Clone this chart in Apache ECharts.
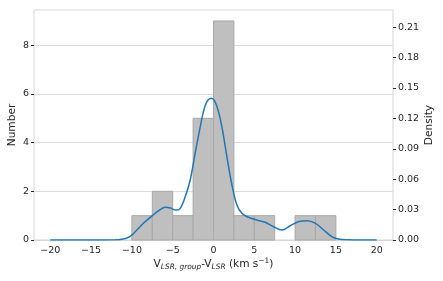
<!DOCTYPE html>
<html><head><meta charset="utf-8">
<script src="https://cdn.jsdelivr.net/npm/echarts@6/dist/echarts.min.js"></script>
<style>html,body{margin:0;padding:0;background:#fff}#c{width:443px;height:281px}</style>
</head><body><div id="c"></div>
<script>
// Histogram bins (edges) and counts
const binStarts = [-10, -7.5, -5, -2.5, 0, 2.5, 5, 7.5, 10, 12.5];
const binEnds   = [-7.5, -5, -2.5, 0, 2.5, 5, 7.5, 10, 12.5, 15];
const counts    = [1, 2, 1, 5, 9, 1, 1, 0, 1, 1];
// KDE curve (density axis)
const kdeX = [-20, -15, -12, -11.4, -10.8, -10.2, -9.4, -8.6, -7.5, -6.7, -5.9, -5.3, -4.6, -4.1, -3.5, -2.86, -2.25, -1.7, -1.23, -0.81, -0.28, 0.12, 0.61, 1.1, 1.64, 2.26, 2.87, 3.48, 4.1, 5.3, 6.34, 7.36, 8.39, 9.4, 10.4, 11.46, 12.5, 13.5, 14.5, 15.3, 16.5, 18, 20];
const kdeY = [0, 0, 0.0002, 0.0005, 0.0015, 0.0035, 0.0099, 0.0165, 0.024, 0.029, 0.0322, 0.0315, 0.0295, 0.031, 0.042, 0.059, 0.0856, 0.1086, 0.1267, 0.1365, 0.14, 0.1375, 0.1267, 0.1086, 0.0822, 0.0543, 0.0345, 0.0263, 0.023, 0.0197, 0.0175, 0.0131, 0.0099, 0.0141, 0.018, 0.019, 0.0165, 0.0099, 0.0033, 0.001, 0.0002, 0, 0];
// Tick labels
const xTicks = [-20, -15, -10, -5, 0, 5, 10, 15, 20];
const yLeftTicks = [0, 2, 4, 6, 8];
const yRightTicks = [0, 0.03, 0.06, 0.09, 0.12, 0.15, 0.18, 0.21];

const histData = binStarts.map((s, i) => [s, binEnds[i], counts[i]]);
const kdeData = kdeX.map((x, i) => [x, kdeY[i]]);

const FONT = 'DejaVu Sans';
const TXT = '#262626';
const chart = echarts.init(document.getElementById('c'), null, {renderer: 'canvas'});
const fmtMinus = v => String(v).replace('-', '\u2212');

chart.setOption({
  animation: false,
  grid: {left: 34, right: 50, top: 10, bottom: 41, show: true, borderColor: '#d6d6d6', borderWidth: 1,
    containLabel: false, outerBoundsMode: 'none'},
  xAxis: {
    type: 'value', min: -22, max: 22,
    axisLine: {show: true, onZero: false, lineStyle: {color: '#d6d6d6'}},
    axisTick: {show: false},
    splitLine: {show: false},
    axisLabel: {customValues: xTicks, formatter: fmtMinus, color: TXT, fontFamily: FONT, fontSize: 9.5, margin: 6},
    name: '{n|V}{s|LSR, group}{n|-V}{s|LSR}{n| (km s}{p|\u22121}{n|)}',
    nameLocation: 'middle', nameGap: 18, nameMoveOverlap: false,
    nameTextStyle: {
      color: TXT, fontFamily: FONT, fontSize: 10.6,
      rich: {
        n: {fontSize: 10.6, fontFamily: FONT, color: TXT, verticalAlign: 'middle'},
        s: {fontSize: 7.4, fontFamily: FONT, fontStyle: 'italic', color: TXT, verticalAlign: 'bottom', padding: [6, 0, 0, 0]},
        p: {fontSize: 7.4, fontFamily: FONT, color: TXT, verticalAlign: 'top', padding: [0, 0, 6, 0]}
      }
    }
  },
  yAxis: [{
    type: 'value', min: 0, max: 9.45, interval: 2,
    axisLine: {show: false, onZero: false},
    axisTick: {show: true, length: 3, lineStyle: {color: TXT}, customValues: yLeftTicks},
    splitLine: {show: true, lineStyle: {color: '#dcdcdc', width: 1}},
    axisLabel: {customValues: yLeftTicks, color: TXT, fontFamily: FONT, fontSize: 9.5, margin: 5},
    name: 'Number', nameLocation: 'middle', nameGap: 16, nameMoveOverlap: false,
    nameTextStyle: {color: TXT, fontFamily: FONT, fontSize: 10.6}
  }, {
    type: 'value', min: 0, max: 0.227, position: 'right',
    axisLine: {show: false, onZero: false},
    axisTick: {show: true, length: 3, lineStyle: {color: TXT}, customValues: yRightTicks},
    splitLine: {show: false},
    axisLabel: {customValues: yRightTicks, formatter: v => v.toFixed(2), color: TXT, fontFamily: FONT, fontSize: 9.5, margin: 5},
    name: 'Density', nameLocation: 'middle', nameGap: 31, nameMoveOverlap: false,
    nameTextStyle: {color: TXT, fontFamily: FONT, fontSize: 10.6}
  }],
  series: [{
    type: 'custom', yAxisIndex: 0, xAxisIndex: 0,
    data: histData,
    encode: {x: [0, 1], y: 2},
    renderItem: (params, api) => {
      const h = api.value(2);
      if (!h) return null;
      const p0 = api.coord([api.value(0), h]);
      const p1 = api.coord([api.value(1), 0]);
      return {type: 'rect', shape: {x: p0[0], y: p0[1], width: p1[0] - p0[0], height: p1[1] - p0[1]},
        style: {fill: '#bfbfbf', stroke: '#a8a8a8', lineWidth: 1}};
    },
    z: 2
  }, {
    type: 'line', yAxisIndex: 1, data: kdeData, smooth: 0.35, showSymbol: false,
    lineStyle: {color: '#1f77b4', width: 1.5}, z: 3
  }]
});
</script></body></html>
